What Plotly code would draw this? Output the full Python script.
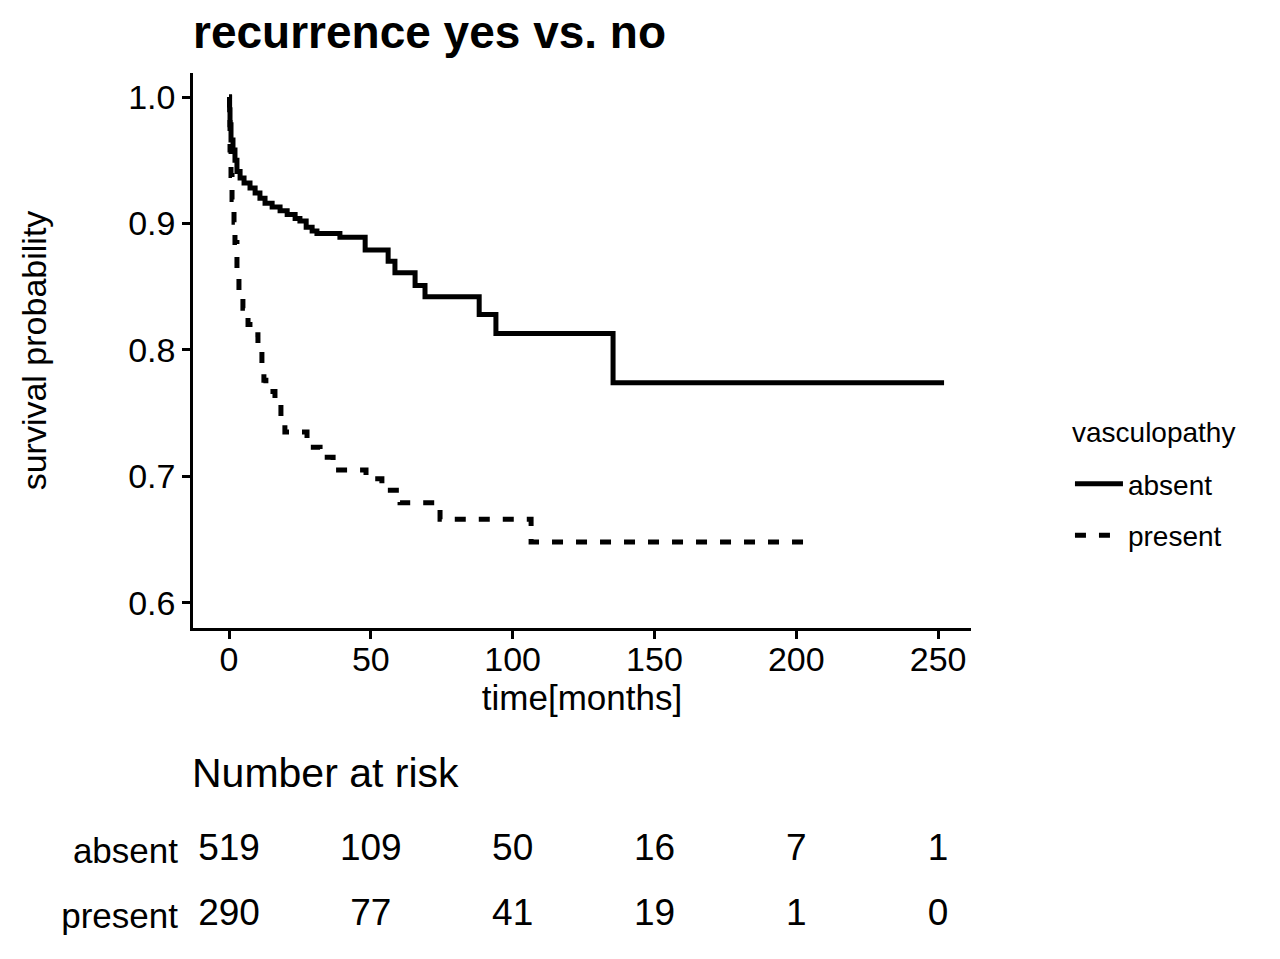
import plotly.graph_objects as go

# ---- data ----
absent_time = [0, 0.2, 0.35, 0.7, 1.4, 2.1, 2.8, 3.9, 5.3, 7.4, 9.2, 10.9, 12.7, 15.2, 18.0,
               20.5, 23.3, 25.0, 27.2, 29.3, 31.0, 39.1, 48.0, 56.1, 58.5, 65.6, 69.1, 88.2,
               94.1, 135.4, 252.1]
absent_surv = [1.0, 0.990, 0.978, 0.966, 0.958, 0.950, 0.941, 0.936, 0.932, 0.928, 0.924,
               0.920, 0.916, 0.913, 0.910, 0.907, 0.904, 0.902, 0.897, 0.894, 0.892, 0.889,
               0.879, 0.870, 0.861, 0.851, 0.842, 0.828, 0.813, 0.774, 0.774]

present_time = [0, 0.18, 0.35, 0.7, 1.06, 1.76, 2.1, 2.8, 3.5, 4.9, 6.7, 8.8, 10.2, 11.6,
                12.3, 13.0, 16.2, 18.3, 19.7, 27.5, 32.1, 36.7, 48.3, 53.9, 60.3, 74.4,
                106.5, 205.6]
present_surv = [1.0, 0.982, 0.958, 0.938, 0.919, 0.901, 0.885, 0.863, 0.847, 0.833, 0.820,
                0.812, 0.800, 0.788, 0.776, 0.767, 0.757, 0.745, 0.735, 0.723, 0.715, 0.705,
                0.698, 0.689, 0.679, 0.666, 0.648, 0.648]

risk_times = [0, 50, 100, 150, 200, 250]
risk_absent = [519, 109, 50, 16, 7, 1]
risk_present = [290, 77, 41, 19, 1, 0]

x_ticks = [0, 50, 100, 150, 200, 250]
y_ticks = [0.6, 0.7, 0.8, 0.9, 1.0]
groups = ["absent", "present"]
legend_title = "vasculopathy"

FONT = "Liberation Sans, Arial, sans-serif"

fig = go.Figure()

fig.add_trace(go.Scatter(
    x=absent_time, y=absent_surv, mode="lines", line_shape="hv",
    line=dict(color="black", width=5), name=groups[0], legendgroup="a",
    xaxis="x", yaxis="y"))
fig.add_trace(go.Scatter(
    x=present_time, y=present_surv, mode="lines", line_shape="hv",
    line=dict(color="black", width=5, dash="11px,13px"), name=groups[1], legendgroup="p",
    xaxis="x", yaxis="y"))

# risk table
fig.add_trace(go.Scatter(
    x=risk_times, y=[1] * len(risk_times), mode="text",
    text=[str(v) for v in risk_absent], textfont=dict(size=37, color="black", family=FONT),
    showlegend=False, xaxis="x2", yaxis="y2", hoverinfo="skip"))
fig.add_trace(go.Scatter(
    x=risk_times, y=[0] * len(risk_times), mode="text",
    text=[str(v) for v in risk_present], textfont=dict(size=37, color="black", family=FONT),
    showlegend=False, xaxis="x2", yaxis="y2", hoverinfo="skip"))

xr = [-12.7, 261.6]

fig.update_layout(
    width=1280, height=959,
    margin=dict(l=193, r=309, t=73, b=0),
    paper_bgcolor="white", plot_bgcolor="white",
    font=dict(family=FONT, color="black"),
    title=dict(text="<b>recurrence yes vs. no</b>", font=dict(size=46, family=FONT, color="black"),
               xref="paper", x=0, xanchor="left", yref="container", y=0.967, yanchor="middle"),
    xaxis=dict(range=xr, domain=[0, 1], anchor="y", tickvals=x_ticks,
               showline=True, linecolor="black", linewidth=2.5, mirror=False,
               ticks="outside", ticklen=8, tickwidth=2.5, tickcolor="black",
               ticklabelstandoff=-9,
               tickfont=dict(size=34, family=FONT, color="black"),
               showgrid=False, zeroline=False,
               title=dict(text="time[months]", font=dict(size=35, family=FONT, color="black"), standoff=1)),
    yaxis=dict(range=[0.580, 1.019], domain=[0.3736, 1], anchor="x", tickvals=y_ticks,
               tickformat=".1f",
               showline=True, linecolor="black", linewidth=2.5,
               ticks="outside", ticklen=8, tickwidth=2.5, tickcolor="black",
               tickfont=dict(size=34, family=FONT, color="black"),
               showgrid=False, zeroline=False,
               title=dict(text="survival probability", font=dict(size=34, family=FONT, color="black"), standoff=72)),
    xaxis2=dict(range=xr, domain=[0, 1], anchor="y2", visible=False),
    yaxis2=dict(range=[-0.5, 1.5], domain=[0.01185, 0.15858], anchor="x2",
                tickvals=[1, 0], ticktext=groups, showline=False, showgrid=False, zeroline=False,
                ticks="outside", ticklen=7, tickcolor="rgba(0,0,0,0)",
                tickfont=dict(size=35, family=FONT, color="black")),
    legend=dict(x=1.1272, xanchor="left", y=0.5643, yanchor="top",
                font=dict(size=28, family=FONT, color="black"), tracegroupgap=12,
                itemwidth=48, bgcolor="rgba(0,0,0,0)"),
    annotations=[
        dict(text="Number at risk", xref="paper", yref="paper", x=0, y=0.2099, xshift=-3,
             xanchor="left", yanchor="middle", showarrow=False,
             font=dict(size=41, family=FONT, color="black")),
        dict(text=legend_title, xref="paper", yref="paper", x=1.1272, y=0.5937,
             xanchor="left", yanchor="middle", showarrow=False,
             font=dict(size=28, family=FONT, color="black")),
    ],
)

fig.write_html("out.html", config={"displayModeBar": False},
               post_script="document.body.style.margin='0px';")
